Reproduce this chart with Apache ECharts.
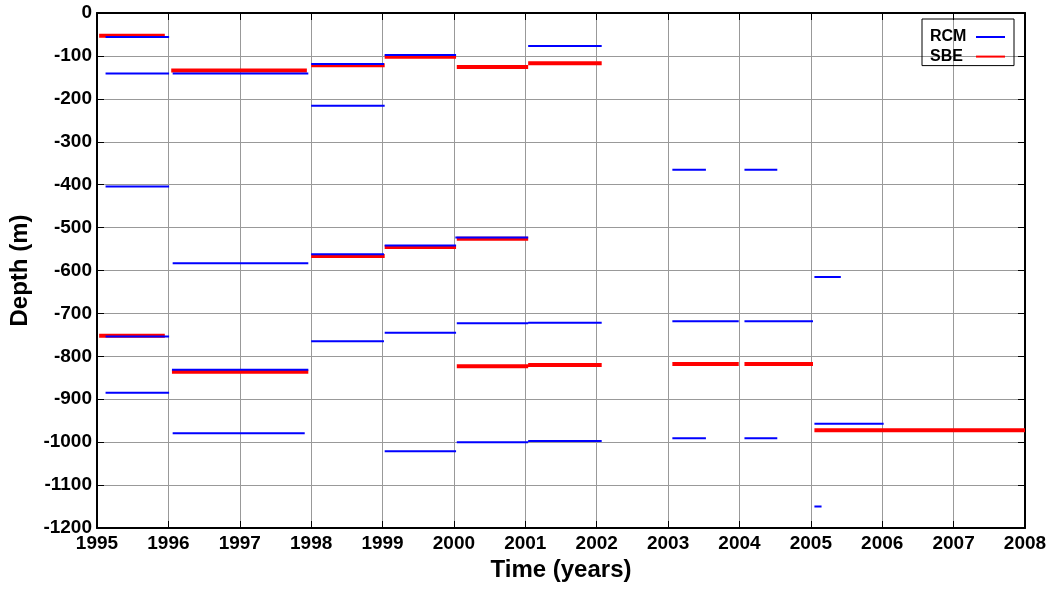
<!DOCTYPE html>
<html>
<head>
<meta charset="utf-8">
<script src="https://cdn.jsdelivr.net/npm/echarts@6/dist/echarts.min.js"></script>
<style>
  html, body { margin: 0; padding: 0; background: #fff; }
  #depthChart { width: 1052px; height: 590px; }
</style>
</head>
<body>
<div id="depthChart"></div>
<script>
var years = [1995, 1996, 1997, 1998, 1999, 2000, 2001, 2002, 2003, 2004, 2005, 2006, 2007, 2008];
var depthTicks = [0, -100, -200, -300, -400, -500, -600, -700, -800, -900, -1000, -1100, -1200];

// RCM deployments: start, end (decimal year), depth (m)
var rcmStart = [1995.12, 1995.12, 1995.12, 1995.12, 1995.12,
                1996.06, 1996.06, 1996.05, 1996.06,
                1998.0, 1998.0, 1998.0, 1998.0,
                1999.03, 1999.03, 1999.03, 1999.03,
                2000.02, 2000.04, 2000.04,
                2001.04, 2001.04, 2001.04,
                2003.06, 2003.06, 2003.06,
                2004.07, 2004.07, 2004.07,
                2005.05, 2005.05, 2005.05];
var rcmEnd = [1996.01, 1996.01, 1996.01, 1996.01, 1996.01,
              1997.96, 1997.96, 1997.96, 1997.91,
              1999.02, 1999.03, 1999.02, 1999.02,
              2000.03, 2000.03, 2000.03, 2000.03,
              2001.04, 2001.04, 2001.04,
              2002.07, 2002.07, 2002.07,
              2003.53, 2003.99, 2003.53,
              2004.53, 2005.03, 2004.53,
              2005.42, 2006.02, 2005.15];
var rcmDepth = [-56, -141, -404, -754, -885,
                -141, -583, -831, -979,
                -119, -216, -562, -765,
                -98, -542, -745, -1021,
                -523, -723, -1000,
                -77, -722, -997,
                -365, -718, -991,
                -365, -718, -991,
                -615, -957, -1150];

// SBE deployments
var sbeStart = [1995.03, 1995.03, 1996.04, 1996.05, 1998.0, 1998.0, 1999.03, 1999.03,
                2000.04, 2000.04, 2000.04, 2001.04, 2001.04, 2003.06, 2004.07, 2005.05];
var sbeEnd = [1995.95, 1995.95, 1997.94, 1997.96, 1999.03, 1999.03, 2000.03, 2000.03,
              2001.04, 2001.04, 2001.04, 2002.07, 2002.07, 2003.99, 2005.03, 2008];
var sbeDepth = [-53, -752, -134, -836, -122, -566, -102, -545,
                -126, -526, -823, -117, -820, -818, -818, -972];

// horizontal segments, broken with '-' between deployments
function segments(starts, ends, depths) {
  var out = [];
  for (var i = 0; i < starts.length; i++) {
    out.push([starts[i], depths[i]]);
    out.push([ends[i], depths[i]]);
    out.push([ends[i], '-']);
  }
  return out;
}

var labelFont = { color: '#000', fontFamily: 'Liberation Sans, Arial', fontWeight: 'bold', fontSize: 19 };
var nameFont = { color: '#000', fontFamily: 'Liberation Sans, Arial', fontWeight: 'bold', fontSize: 24 };
var frameLine = { onZero: false, lineStyle: { color: '#000', width: 2 } };
var innerTick = { show: true, inside: true, length: 7, lineStyle: { color: '#000' } };

var depthChart = echarts.init(document.getElementById('depthChart'));
var option = {
  animation: false,
  backgroundColor: '#fff',
  grid: { left: 97, right: 27, top: 13, bottom: 62 },
  legend: {
    data: ['RCM', 'SBE'],
    orient: 'vertical',
    left: 922,
    top: 19,
    align: 'right',
    icon: 'rect',
    itemWidth: 29,
    itemHeight: 2,
    itemGap: 3.6,
    padding: [10, 9, 1, 8],
    borderColor: '#000',
    borderWidth: 1,
    formatter: '{t|{name}}',
    textStyle: {
      color: '#000', fontFamily: 'Liberation Sans, Arial', fontWeight: 'bold', fontSize: 16,
      rich: {
        t: {
          color: '#000', fontFamily: 'Liberation Sans, Arial', fontWeight: 'bold',
          fontSize: 16, lineHeight: 16, width: 41, align: 'left'
        }
      }
    }
  },
  xAxis: [{
    type: 'value',
    min: years[0],
    max: years[years.length - 1],
    interval: 1,
    name: 'Time (years)',
    nameLocation: 'middle',
    nameGap: 24,
    nameTextStyle: nameFont,
    axisLine: frameLine,
    axisTick: innerTick,
    axisLabel: Object.assign({ margin: 6, formatter: function (v) { return years.indexOf(v) >= 0 ? String(v) : ''; } }, labelFont),
    splitLine: { show: true, lineStyle: { color: '#999', width: 1 } }
  }, {
    type: 'value',
    position: 'top',
    min: years[0],
    max: years[years.length - 1],
    interval: 1,
    axisLine: frameLine,
    axisTick: innerTick,
    axisLabel: { show: false },
    splitLine: { show: false }
  }],
  yAxis: [{
    type: 'value',
    min: depthTicks[depthTicks.length - 1],
    max: depthTicks[0],
    interval: 100,
    name: 'Depth (m)',
    nameLocation: 'middle',
    nameRotate: 90,
    nameGap: 62,
    nameTextStyle: nameFont,
    axisLine: Object.assign({ show: true }, frameLine),
    axisTick: innerTick,
    axisLabel: Object.assign({ margin: 5, formatter: function (v) { return depthTicks.indexOf(v) >= 0 ? String(v) : ''; } }, labelFont),
    splitLine: { show: true, lineStyle: { color: '#999', width: 1 } }
  }, {
    type: 'value',
    position: 'right',
    min: depthTicks[depthTicks.length - 1],
    max: depthTicks[0],
    interval: 100,
    axisLine: Object.assign({ show: true }, frameLine),
    axisTick: innerTick,
    axisLabel: { show: false },
    splitLine: { show: false }
  }],
  series: [{
    name: 'SBE',
    type: 'line',
    data: segments(sbeStart, sbeEnd, sbeDepth),
    showSymbol: false,
    symbol: 'none',
    connectNulls: false,
    color: '#ff0000',
    lineStyle: { color: '#ff0000', width: 4 },
    z: 2
  }, {
    name: 'RCM',
    type: 'line',
    data: segments(rcmStart, rcmEnd, rcmDepth),
    showSymbol: false,
    symbol: 'none',
    connectNulls: false,
    color: '#0000ff',
    lineStyle: { color: '#0000ff', width: 2 },
    z: 3
  }]
};
depthChart.setOption(option);
window.addEventListener('resize', function () {
  depthChart.resize();
});
</script>
</body>
</html>
